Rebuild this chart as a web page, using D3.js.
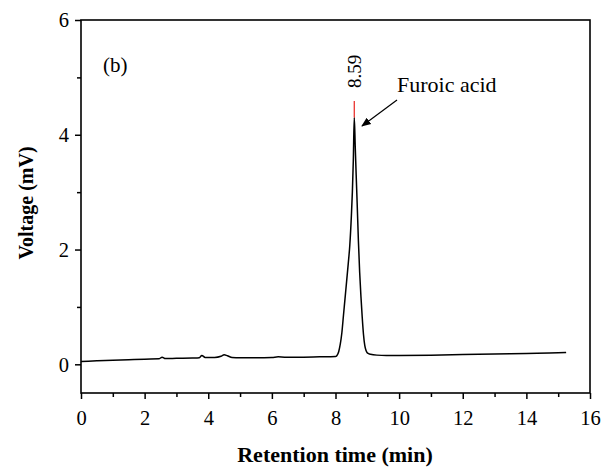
<!DOCTYPE html>
<html><head><meta charset="utf-8">
<script src="https://cdn.jsdelivr.net/npm/d3@7"></script>
<style>body{margin:0;background:#fff}svg{display:block}text{font-family:"Liberation Serif","Times New Roman",serif}</style>
</head><body>
<svg id="c" width="605" height="468"></svg>
<script>
const times = [0,0.5,1.0,1.5,2.0,2.45,2.55,2.65,3.0,3.5,3.72,3.8,3.9,4.2,4.4,4.5,4.6,4.75,5.0,5.5,6.0,6.2,6.4,7.0,7.5,7.8,8.0,8.04,8.1,8.15,8.2,8.25,8.3,8.35,8.4,8.45,8.5,8.53,8.56,8.59,8.62,8.65,8.68,8.72,8.76,8.8,8.84,8.88,8.92,8.96,9.0,9.1,9.3,9.6,10,11,12,13,14,15,15.25];
const volts = [0.05,0.06,0.07,0.08,0.09,0.095,0.125,0.1,0.105,0.11,0.115,0.155,0.12,0.12,0.14,0.165,0.15,0.12,0.115,0.115,0.12,0.13,0.125,0.125,0.13,0.132,0.135,0.15,0.22,0.35,0.55,0.85,1.15,1.45,1.75,2.08,2.6,3.0,3.55,4.3,3.8,3.3,2.82,2.15,1.6,1.18,0.82,0.52,0.33,0.24,0.2,0.175,0.16,0.155,0.155,0.16,0.17,0.18,0.19,0.2,0.205];
const xTicks = [0,2,4,6,8,10,12,14,16];
const yTicks = [0,2,4,6];
const peakTime = 8.59, peakTop = 4.3, markerTop = 4.59;
const peakLabel = "8.59", compound = "Furoic acid", panel = "(b)";

const svg = d3.select("#c");
const L=81,R=590,T=20,B=393;
const x = d3.scaleLinear().domain([0,16]).range([L,R]);
const y = d3.scaleLinear().domain([-0.5,6]).range([B,T]);
const g = svg.append("g");

g.append("rect").attr("x",L).attr("y",T).attr("width",R-L).attr("height",B-T).attr("fill","none").attr("stroke","#000").attr("stroke-width",1.6);

const xa = g.append("g").attr("transform",`translate(0,${B})`)
  .call(d3.axisBottom(x).tickValues(xTicks).tickSize(6).tickFormat(d3.format("d")));
g.append("g").attr("transform",`translate(0,${B})`)
  .call(d3.axisBottom(x).tickValues(d3.range(1,16,2)).tickSize(4).tickFormat(""));
const ya = g.append("g").attr("transform",`translate(${L},0)`)
  .call(d3.axisLeft(y).tickValues(yTicks).tickSize(6).tickFormat(d3.format("d")));
g.append("g").attr("transform",`translate(${L},0)`)
  .call(d3.axisLeft(y).tickValues([1,3,5]).tickSize(4).tickFormat(""));
g.selectAll(".domain").remove();
g.selectAll(".tick line").attr("stroke","#000").attr("stroke-width",1.5);
xa.selectAll("text").attr("font-size",20.5).attr("y",32).attr("dy",0).attr("fill","#000").attr("font-family","Liberation Serif");
ya.selectAll("text").attr("font-size",20.5).attr("x",-12).attr("dy","0.34em").attr("fill","#000").attr("font-family","Liberation Serif");

const pts = times.map((t,i)=>[t,volts[i]]);
g.append("path").datum(pts).attr("fill","none").attr("stroke","#000").attr("stroke-width",1.5)
  .attr("d",d3.line().x(d=>x(d[0])).y(d=>y(d[1])).curve(d3.curveMonotoneX));

g.append("line").attr("x1",x(peakTime)).attr("x2",x(peakTime)).attr("y1",y(peakTop)).attr("y2",y(markerTop)).attr("stroke","#e8231f").attr("stroke-width",1.2);
g.append("text").attr("transform",`translate(${x(peakTime)+7},88) rotate(-90)`)
  .attr("font-size",19).text(peakLabel);

svg.append("defs").append("marker").attr("id","ah").attr("viewBox","0 0 10 10").attr("refX",9).attr("refY",5)
  .attr("markerWidth",8).attr("markerHeight",8).attr("orient","auto")
  .append("path").attr("d","M0,1 L10,5 L0,9 z").attr("fill","#000");
g.append("line").attr("x1",397).attr("y1",100).attr("x2",362).attr("y2",126).attr("stroke","#000").attr("stroke-width",1.2).attr("marker-end","url(#ah)");
g.append("text").attr("x",397).attr("y",92).attr("font-size",22).text(compound);
g.append("text").attr("x",103).attr("y",72).attr("font-size",21).text(panel);

svg.append("text").attr("x",335).attr("y",462).attr("text-anchor","middle").attr("font-size",22).attr("font-weight","bold").text("Retention time (min)");
svg.append("text").attr("transform",`translate(33,203) rotate(-90)`).attr("text-anchor","middle").attr("font-size",20).attr("font-weight","bold").text("Voltage (mV)");
</script>
</body></html>
